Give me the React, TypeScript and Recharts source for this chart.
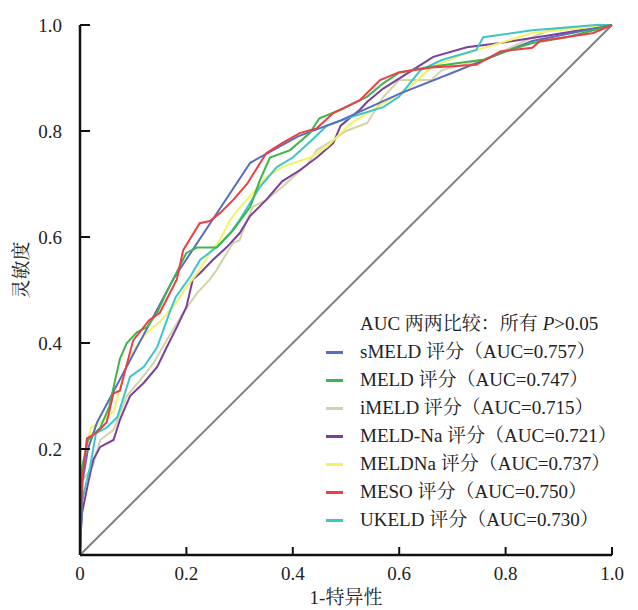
import { LineChart, Line, XAxis, YAxis, ReferenceLine, Label } from 'recharts';

// ROC points: [1-specificity, sensitivity]
const sMELD: [number, number][] = [
  [0, 0], [0.005, 0.14], [0.015, 0.2], [0.032, 0.25], [0.175, 0.52], [0.32, 0.74],
  [0.41, 0.79], [0.49, 0.82], [0.6, 0.87], [0.7, 0.91], [0.85, 0.97], [0.95, 0.99], [1, 1],
];
const MELD: [number, number][] = [
  [0, 0], [0.002, 0.1], [0.004, 0.166], [0.015, 0.217], [0.038, 0.24], [0.055, 0.28],
  [0.066, 0.33], [0.075, 0.37], [0.088, 0.4], [0.107, 0.42], [0.126, 0.43], [0.145, 0.457],
  [0.16, 0.49], [0.175, 0.52], [0.2, 0.57], [0.22, 0.58], [0.257, 0.58], [0.288, 0.613],
  [0.32, 0.657], [0.338, 0.707], [0.357, 0.75], [0.395, 0.764], [0.432, 0.796], [0.45, 0.824],
  [0.49, 0.84], [0.54, 0.865], [0.57, 0.89], [0.6, 0.91], [0.65, 0.92], [0.76, 0.935],
  [0.79, 0.947], [0.85, 0.966], [0.915, 0.977], [0.965, 0.99], [1, 1],
];
const iMELD: [number, number][] = [
  [0, 0], [0.002, 0.08], [0.004, 0.14], [0.015, 0.155], [0.025, 0.17], [0.038, 0.217],
  [0.063, 0.236], [0.088, 0.3], [0.113, 0.33], [0.138, 0.362], [0.163, 0.405], [0.194, 0.457],
  [0.22, 0.494], [0.244, 0.52], [0.257, 0.538], [0.276, 0.57], [0.288, 0.589], [0.3, 0.594],
  [0.314, 0.632], [0.325, 0.657], [0.35, 0.67], [0.38, 0.694], [0.408, 0.72], [0.426, 0.735],
  [0.445, 0.764], [0.476, 0.783], [0.5, 0.8], [0.54, 0.815], [0.57, 0.864], [0.6, 0.896],
  [0.66, 0.896], [0.68, 0.915], [0.7, 0.92], [0.76, 0.934], [0.84, 0.972], [0.88, 0.99],
  [0.945, 0.997], [1, 1],
];
const MELDNa1: [number, number][] = [
  [0, 0], [0.002, 0.05], [0.004, 0.08], [0.015, 0.135], [0.025, 0.18], [0.038, 0.204],
  [0.063, 0.217], [0.075, 0.255], [0.094, 0.3], [0.12, 0.325], [0.145, 0.355], [0.163, 0.392],
  [0.182, 0.43], [0.2, 0.468], [0.212, 0.52], [0.226, 0.532], [0.25, 0.557], [0.276, 0.581],
  [0.3, 0.607], [0.32, 0.64], [0.35, 0.67], [0.38, 0.705], [0.413, 0.726], [0.445, 0.75],
  [0.476, 0.777], [0.49, 0.81], [0.526, 0.84], [0.54, 0.855], [0.57, 0.88], [0.633, 0.92],
  [0.664, 0.94], [0.727, 0.958], [0.79, 0.966], [0.88, 0.98], [1, 1],
];
const MELDNa2: [number, number][] = [
  [0, 0], [0.002, 0.1], [0.004, 0.166], [0.01, 0.19], [0.02, 0.24], [0.038, 0.25],
  [0.063, 0.27], [0.088, 0.36], [0.107, 0.395], [0.126, 0.42], [0.15, 0.44], [0.18, 0.475],
  [0.2, 0.505], [0.225, 0.538], [0.244, 0.57], [0.263, 0.594], [0.282, 0.632], [0.3, 0.655],
  [0.325, 0.683], [0.35, 0.713], [0.38, 0.732], [0.432, 0.75], [0.464, 0.77], [0.49, 0.796],
  [0.51, 0.815], [0.55, 0.84], [0.58, 0.858], [0.62, 0.883], [0.66, 0.92], [0.727, 0.947],
  [0.79, 0.966], [0.85, 0.985], [1, 1],
];
const MESO: [number, number][] = [
  [0, 0], [0.002, 0.08], [0.004, 0.14], [0.013, 0.22], [0.03, 0.23], [0.05, 0.25],
  [0.063, 0.305], [0.075, 0.31], [0.088, 0.36], [0.1, 0.405], [0.13, 0.443], [0.15, 0.457],
  [0.182, 0.52], [0.194, 0.575], [0.225, 0.626], [0.244, 0.63], [0.263, 0.645], [0.288, 0.67],
  [0.314, 0.7], [0.35, 0.758], [0.38, 0.777], [0.413, 0.796], [0.445, 0.805], [0.476, 0.834],
  [0.526, 0.858], [0.564, 0.896], [0.6, 0.911], [0.66, 0.92], [0.745, 0.925], [0.79, 0.95],
  [0.85, 0.957], [0.865, 0.97], [0.965, 0.985], [1, 1],
];
const UKELD: [number, number][] = [
  [0, 0], [0.002, 0.06], [0.004, 0.1], [0.01, 0.128], [0.019, 0.166], [0.03, 0.23],
  [0.05, 0.24], [0.07, 0.26], [0.094, 0.336], [0.12, 0.355], [0.145, 0.392], [0.17, 0.462],
  [0.18, 0.487], [0.207, 0.525], [0.226, 0.557], [0.257, 0.581], [0.282, 0.607], [0.3, 0.632],
  [0.338, 0.694], [0.37, 0.732], [0.4, 0.75], [0.438, 0.785], [0.464, 0.81], [0.508, 0.826],
  [0.57, 0.845], [0.6, 0.865], [0.64, 0.915], [0.68, 0.934], [0.745, 0.953], [0.758, 0.977],
  [0.85, 0.99], [0.97, 1], [1, 1],
];

const legendTitle = 'AUC 两两比较：所有 ';
const labels = [
  'sMELD 评分（AUC=0.757）',
  'MELD 评分（AUC=0.747）',
  'iMELD 评分（AUC=0.715）',
  'MELD-Na 评分（AUC=0.721）',
  'MELDNa 评分（AUC=0.737）',
  'MESO 评分（AUC=0.750）',
  'UKELD 评分（AUC=0.730）',
];
const colors = ['#5a6cc0', '#3cb54a', '#d2d3a6', '#7a3f9a', '#f3f266', '#ec3f45', '#3ec4ca'];
const seriesData = [sMELD, MELD, iMELD, MELDNa1, MELDNa2, MESO, UKELD];
// draw order, back to front
const drawOrder = [2, 3, 4, 6, 0, 1, 5];

const xTicks = [0, 0.2, 0.4, 0.6, 0.8, 1.0];
const yTicks = [0.2, 0.4, 0.6, 0.8, 1.0];

const font = '"Liberation Serif", "Noto Serif CJK SC", serif';

const toPoints = (arr: [number, number][]) => arr.map(([fpr, tpr]) => ({ fpr, tpr }));

export default function App() {
  return (
    <div style={{ position: 'absolute', left: 0, top: 0, width: 638, height: 610, background: '#fff', fontFamily: font }}>
      <LineChart width={638} height={610} margin={{ top: 25, right: 26, left: 0, bottom: 0 }} style={{ fontFamily: font }}>
        <XAxis
          type="number"
          dataKey="fpr"
          domain={[0, 1]}
          ticks={xTicks}
          interval={0}
          tickFormatter={(v: number) => (v === 0 ? '0' : v.toFixed(1))}
          height={55}
          axisLine={{ stroke: '#111', strokeWidth: 2.5 }}
          tickLine={{ stroke: '#111', strokeWidth: 2 }}
          tickSize={-8}
          tickMargin={20}
          tick={{ fill: '#222', fontSize: 19, style: { fontFamily: font } }}
        >
          <Label value="1-特异性" position="insideBottom" offset={6} fill="#222" fontSize={19} style={{ fontFamily: font }} />
        </XAxis>
        <YAxis
          type="number"
          dataKey="tpr"
          domain={[0, 1]}
          ticks={yTicks}
          interval={0}
          tickFormatter={(v: number) => v.toFixed(1)}
          width={80}
          axisLine={{ stroke: '#111', strokeWidth: 2.5 }}
          tickLine={{ stroke: '#111', strokeWidth: 2 }}
          tickSize={-10}
          tickMargin={28}
          tick={{ fill: '#222', fontSize: 19, style: { fontFamily: font } }}
        >
          <Label
            content={() => (
              <text x={21} y={270} transform="rotate(-90 21 270)" textAnchor="middle" dominantBaseline="central" fill="#222" fontSize={19} style={{ fontFamily: font }}>
                灵敏度
              </text>
            )}
          />
        </YAxis>
        <ReferenceLine segment={[{ x: 0, y: 0 }, { x: 1, y: 1 }]} stroke="#808080" strokeWidth={2} />
        {drawOrder.map((i) => (
          <Line
            key={labels[i]}
            data={toPoints(seriesData[i])}
            dataKey="tpr"
            type="linear"
            stroke={colors[i]}
            strokeWidth={2}
            dot={false}
            isAnimationActive={false}
          />
        ))}
      </LineChart>
      <div style={{ position: 'absolute', left: 326, top: 310, fontSize: 19, color: '#222', lineHeight: '28px', whiteSpace: 'nowrap' }}>
        <div style={{ paddingLeft: 34 }}>
          {legendTitle}
          <i>P</i>&gt;0.05
        </div>
        {labels.map((t, i) => (
          <div key={t} style={{ display: 'flex', alignItems: 'center' }}>
            <span style={{ display: 'inline-block', width: 17, height: 3, background: colors[i], marginRight: 17 }} />
            <span>{t}</span>
          </div>
        ))}
      </div>
    </div>
  );
}
